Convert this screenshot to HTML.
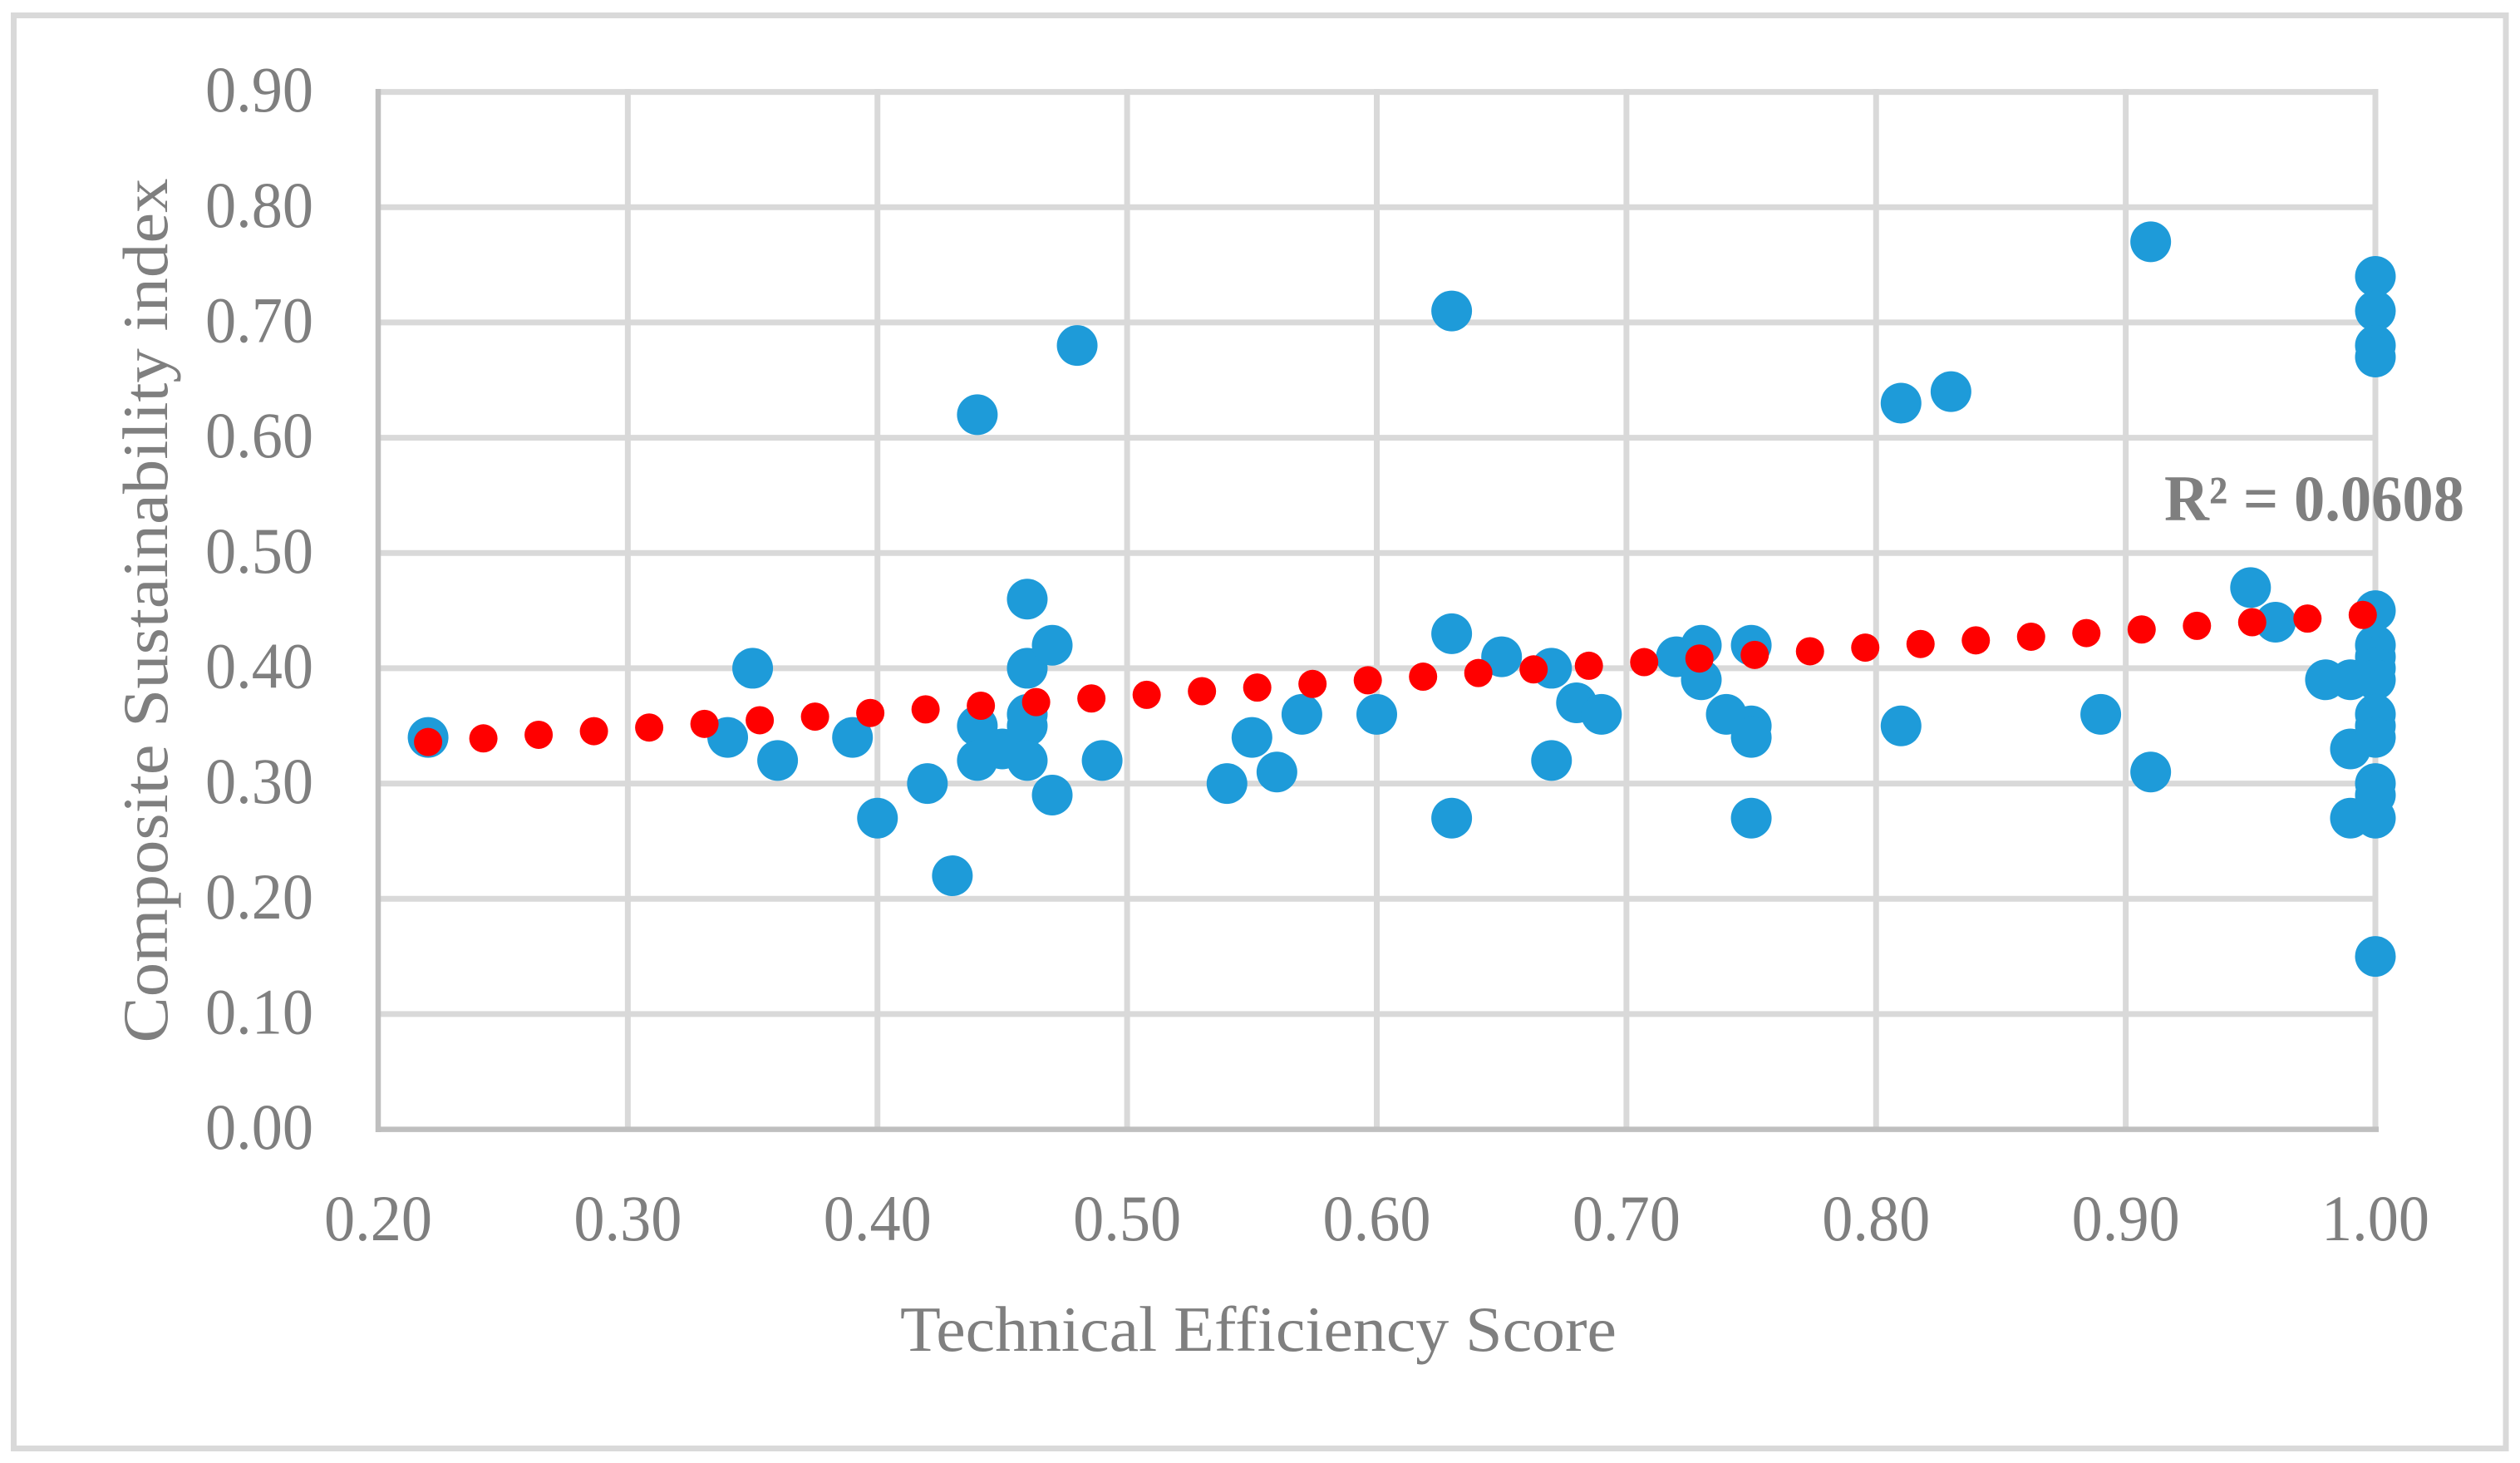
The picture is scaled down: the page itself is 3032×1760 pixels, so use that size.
<!DOCTYPE html>
<html lang="en">
<head>
<meta charset="utf-8">
<title>Composite Sustainability index vs Technical Efficiency Score</title>
<style>
html,body{margin:0;padding:0;background:#fff;width:3032px;height:1760px;overflow:hidden}
svg{display:block}
text{font-family:"Liberation Serif",serif;fill:#7f7f7f}
</style>
</head>
<body>
<svg id="chart" xmlns="http://www.w3.org/2000/svg" width="3032" height="1760" viewBox="0 0 3032 1760">
  <rect x="16.5" y="18.5" width="2998.5" height="1724" fill="#fff" stroke="#d9d9d9" stroke-width="7"/>
  <g id="grid"></g>
  <g id="axes"></g>
  <g id="xticks"></g>
  <g id="yticks"></g>
  <g id="points"></g>
  <g id="trend"></g>
  <text x="1514" y="1625" font-size="77" text-anchor="middle" textLength="862" lengthAdjust="spacingAndGlyphs">Technical Efficiency Score</text>
  <text transform="translate(201,734.5) rotate(-90)" font-size="77" text-anchor="middle" textLength="1040" lengthAdjust="spacingAndGlyphs">Composite Sustainability index</text>
  <text x="2604" y="626" font-size="78" font-weight="bold" textLength="361" lengthAdjust="spacingAndGlyphs">R² = 0.0608</text>
</svg>
<script>
const xTicks = ['0.20','0.30','0.40','0.50','0.60','0.70','0.80','0.90','1.00'];
const yTicks = ['0.00','0.10','0.20','0.30','0.40','0.50','0.60','0.70','0.80','0.90'];
const efficiency = [0.22,0.34,0.35,0.36,0.39,0.40,0.42,0.43,0.44,0.44,0.44,0.45,0.46,0.46,0.46,0.46,0.46,0.47,0.47,0.48,0.49,0.54,0.55,0.56,0.57,0.60,0.63,0.63,0.63,0.65,0.67,0.67,0.68,0.69,0.72,0.73,0.73,0.74,0.75,0.75,0.75,0.75,0.81,0.81,0.83,0.89,0.91,0.91,0.95,0.96,0.98,0.99,0.99,0.99,1,1,1,1,1,1,1,1,1,1,1,1,1,1,1,1];
const sustainability = [0.34,0.34,0.40,0.32,0.34,0.27,0.30,0.22,0.62,0.35,0.32,0.33,0.46,0.40,0.36,0.35,0.32,0.42,0.29,0.68,0.32,0.30,0.34,0.31,0.36,0.36,0.71,0.43,0.27,0.41,0.40,0.32,0.37,0.36,0.41,0.42,0.39,0.36,0.42,0.35,0.34,0.27,0.63,0.35,0.64,0.36,0.77,0.31,0.47,0.44,0.39,0.39,0.33,0.27,0.74,0.71,0.68,0.67,0.45,0.42,0.41,0.40,0.39,0.36,0.35,0.34,0.30,0.29,0.27,0.15];
const trendX = [0.22, 1.00];
const trendY = [0.336, 0.447];

const NS = 'http://www.w3.org/2000/svg';
const xScale = function (v) { return 455 + (v - 0.2) / 0.8 * 2403; };
const yScale = function (v) { return 1358.6 - v / 0.9 * 1248; };

function make(tag, parent, attrs, txt) {
  const el = document.createElementNS(NS, tag);
  Object.keys(attrs).forEach(function (k) { el.setAttribute(k, attrs[k]); });
  if (txt !== undefined) el.textContent = txt;
  document.getElementById(parent).appendChild(el);
  return el;
}

yTicks.forEach(function (t) {
  const v = parseFloat(t), y = yScale(v);
  if (v > 0) {
    const g = make('line', 'grid', {x1: 455, x2: 2858, y1: y, y2: y, stroke: '#d9d9d9', 'stroke-width': 7});
    
    
  }
  const l = make('text', 'yticks', {x: 247, y: y + 23.5, 'font-size': 78, textLength: 130, lengthAdjust: 'spacingAndGlyphs'}, t);
  
  
});

xTicks.forEach(function (t) {
  const v = parseFloat(t), x = xScale(v);
  if (v > 0.2) {
    const g = make('line', 'grid', {x1: x, x2: x, y1: 107, y2: 1358.6, stroke: '#d9d9d9', 'stroke-width': 7});
    
    
  }
  const l = make('text', 'xticks', {x: x - 65, y: 1492, 'font-size': 78, textLength: 130, lengthAdjust: 'spacingAndGlyphs'}, t);
  
  
});

const yAxis = make('line', 'axes', {x1: 455, x2: 455, y1: 107, y2: 1362, stroke: '#bfbfbf', 'stroke-width': 6.5});


const xAxis = make('line', 'axes', {x1: 452, x2: 2862, y1: 1358.6, y2: 1358.6, stroke: '#bfbfbf', 'stroke-width': 6.5});



efficiency.forEach(function (e, i) {
  const c = make('circle', 'points', {cx: xScale(e), cy: yScale(sustainability[i]), r: 24.5, fill: '#1e9bd9'});
  
  
});

const trendLine = make('line', 'trend', {
  x1: xScale(trendX[0]), y1: yScale(trendY[0]),
  x2: xScale(trendX[1]), y2: yScale(trendY[1]),
  stroke: '#ff0000', 'stroke-width': 34, 'stroke-linecap': 'round', 'stroke-dasharray': '0 66.65'
});


</script>
</body>
</html>
